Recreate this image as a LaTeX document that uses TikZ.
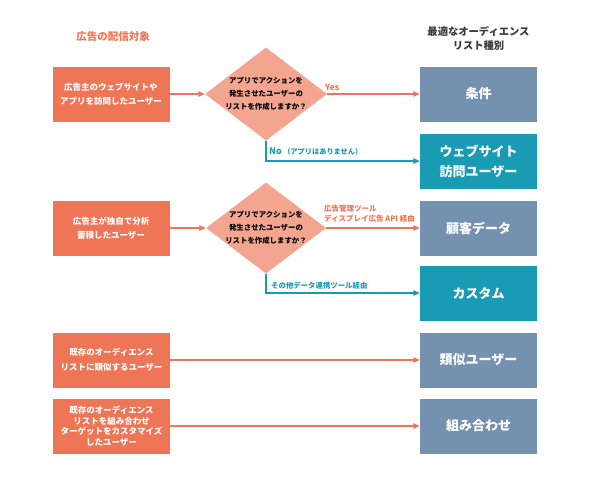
\documentclass[tikz,border=0pt]{standalone}
\usepackage{fontspec}
\setmainfont{Noto Sans CJK JP}
\usetikzlibrary{shapes.geometric,arrows.meta}
\definecolor{orng}{HTML}{EE7656}
\definecolor{dia}{HTML}{F3A58F}
\definecolor{slate}{HTML}{7591B0}
\definecolor{teal}{HTML}{1A9BB4}
\definecolor{hdr}{HTML}{3A3A3A}
\tikzset{
  srcbox/.style={fill=orng, minimum width=117pt, minimum height=55pt, inner sep=0pt, text=white, align=center, font=\bfseries\fontsize{8.5}{14}\selectfont},
  dstslate/.style={fill=slate, minimum width=117pt, minimum height=55pt, inner sep=0pt, text=white, align=center, font=\bfseries\fontsize{13}{20}\selectfont},
  dstteal/.style={dstslate, fill=teal},
  decision/.style={diamond, fill=dia, minimum width=122pt, minimum height=93pt, inner sep=0pt},
  dtext/.style={align=center, font=\bfseries\fontsize{7.4}{13}\selectfont, text=black},
  oarrow/.style={draw=orng, line width=1.1pt, -{Triangle[length=6.5pt,width=5.5pt]}},
  tarrow/.style={draw=teal, line width=1.1pt, -{Triangle[length=6.5pt,width=5.5pt]}},
  olabel/.style={text=orng, font=\bfseries\fontsize{7.5}{9.5}\selectfont, inner sep=0pt, align=left},
}
\begin{document}
\begin{tikzpicture}[x=1pt,y=-1pt]
\useasboundingbox (0,0) rectangle (600,483);
\fill[white] (0,0) rectangle (600,483);
% headers
\node[text=orng, font=\bfseries\fontsize{10.5}{13}\selectfont] (h1) at (113,37) {広告の配信対象};
\node[text=hdr, align=center, font=\bfseries\fontsize{10.3}{13.5}\selectfont] (h2) at (478.5,38.5) {最適なオーディエンス\\リスト種別};
% source boxes
\node[srcbox] (L1) at (111,94) {広告主のウェブサイトや\\アプリを訪問したユーザー};
\node[srcbox] (L2) at (111,228) {広告主が独自で分析\\蓄積したユーザー};
\node[srcbox, font=\bfseries\fontsize{8.5}{15}\selectfont] (L3) at (111.5,360) {既存のオーディエンス\\リストに類似するユーザー};
\node[srcbox, font=\bfseries\fontsize{8.5}{10.7}\selectfont] (L4) at (111.5,426) {既存のオーディエンス\\リストを組み合わせ\\ターゲットをカスタマイズ\\したユーザー};
% destination boxes
\node[dstslate] (R1) at (478.5,94) {条件};
\node[dstteal] (R2) at (478.5,161) {ウェブサイト\\訪問ユーザー};
\node[dstslate] (R3) at (478.5,228) {顧客データ};
\node[dstteal] (R4) at (478.5,293) {カスタム};
\node[dstslate] (R5) at (478.5,360) {類似ユーザー};
\node[dstslate] (R6) at (478.5,426) {組み合わせ};
% decisions
\node[decision] (d1) at (266,94) {};
\node[dtext] (t1) at (d1) {アプリでアクションを\\発生させたユーザーの\\リストを作成しますか？};
\node[decision, minimum width=120pt, minimum height=91pt] (d2) at (266,228) {};
\node[dtext] (t2) at (d2) {アプリでアクションを\\発生させたユーザーの\\リストを作成しますか？};
% connectors
\draw[oarrow] (L1.east) -- (d1.west);
\draw[oarrow] (d1.east) -- (R1.west);
\draw[tarrow] (d1.south) |- (R2.west);
\draw[oarrow] (L2.east) -- (d2.west);
\draw[oarrow] (d2.east) -- (R3.west);
\draw[tarrow] (d2.south) |- (R4.west);
\draw[oarrow] (L3.east) -- (R5.west);
\draw[oarrow] (L4.east) -- (R6.west);
% labels
\node[olabel, anchor=west, font=\bfseries\fontsize{8.5}{9}\selectfont] (yes) at (325,87) {Yes};
\node[anchor=west, inner sep=0pt, text=teal] (no) at (269,152) {\bfseries\fontsize{9}{9}\selectfont No\,\fontsize{7.2}{9}\selectfont （アプリはありません）};
\node[olabel, anchor=south west] (api) at (324,222) {広告管理ツール\\ディスプレイ広告 API 経由};
\node[anchor=west, inner sep=0pt, text=teal, font=\bfseries\fontsize{7.4}{9}\selectfont] (other) at (271,286) {その他データ連携ツール経由};
\end{tikzpicture}
\end{document}
